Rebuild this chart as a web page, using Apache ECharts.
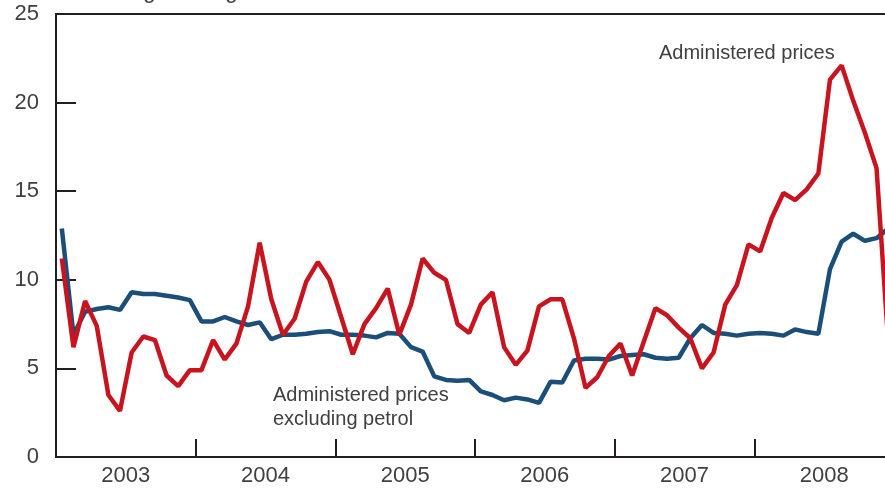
<!DOCTYPE html>
<html>
<head>
<meta charset="utf-8">
<style>
  html, body { margin: 0; padding: 0; background: #ffffff; overflow: hidden; width: 885px; height: 489px; }
  #chart { width: 900px; height: 489px; }
</style>
<script src="https://cdn.jsdelivr.net/npm/echarts@6/dist/echarts.min.js"></script>
</head>
<body>
<div id="chart"></div>
<script>
// ---- data ----
const years = ['2003', '2004', '2005', '2006', '2007', '2008'];
const monthNames = ['Jan','Feb','Mar','Apr','May','Jun','Jul','Aug','Sep','Oct','Nov','Dec'];
const yTicks = [0, 5, 10, 15, 20, 25];

// Administered prices (red), monthly Jan 2003 - Dec 2008
const administered = [
  11.2, 6.2, 8.8, 7.4, 3.5, 2.6, 5.9, 6.8, 6.6, 4.6, 4.0, 4.9,
  4.9, 6.6, 5.5, 6.4, 8.5, 12.1, 8.9, 6.9, 7.8, 9.9, 11.0, 10.0,
  7.9, 5.8, 7.5, 8.4, 9.5, 6.9, 8.6, 11.2, 10.4, 10.0, 7.5, 7.0,
  8.6, 9.3, 6.2, 5.2, 6.0, 8.5, 8.9, 8.9, 6.7, 3.9, 4.5, 5.7,
  6.4, 4.6, 6.5, 8.4, 8.0, 7.3, 6.7, 5.0, 5.9, 8.6, 9.7, 12.0,
  11.6, 13.5, 14.9, 14.5, 15.1, 16.0, 21.3, 22.1, 20.1, 18.3, 16.3, 6.5
];

// Administered prices excluding petrol (blue)
const administeredExPetrol = [
  12.9, 6.9, 8.2, 8.35, 8.45, 8.3, 9.3, 9.2, 9.2, 9.1, 9.0, 8.85,
  7.65, 7.65, 7.9, 7.65, 7.45, 7.6, 6.65, 6.9, 6.9, 6.95, 7.05, 7.1,
  6.9, 6.9, 6.85, 6.75, 7.0, 6.95, 6.2, 5.95, 4.55, 4.35, 4.3, 4.35,
  3.7, 3.5, 3.2, 3.35, 3.25, 3.05, 4.25, 4.2, 5.45, 5.55, 5.55, 5.5,
  5.7, 5.75, 5.8, 5.6, 5.55, 5.6, 6.7, 7.45, 7.0, 6.95, 6.85, 6.95,
  7.0, 6.95, 6.85, 7.2, 7.05, 6.95, 10.6, 12.15, 12.6, 12.2, 12.35, 12.9
];

const months = [];
years.forEach(y => monthNames.forEach(m => months.push(m + ' ' + y)));

// ---- chart ----
const axisColor = '#231f20';
const textColor = '#404040';
const fontFamily = '"Liberation Sans", Arial, sans-serif';

const chart = echarts.init(document.getElementById('chart'), null, { renderer: 'canvas' });
chart.setOption({
  animation: false,
  backgroundColor: '#ffffff',
  grid: {
    left: 56, right: 6, top: 14, bottom: 32,
    show: true, borderColor: axisColor, borderWidth: 2, backgroundColor: 'transparent'
  },
  xAxis: [
    {
      type: 'category', data: months, boundaryGap: true, position: 'bottom',
      axisLine: { show: true, lineStyle: { color: axisColor, width: 2 } },
      axisTick: { show: false }, axisLabel: { show: false }, splitLine: { show: false }
    },
    {
      type: 'category', data: years, boundaryGap: true, position: 'bottom',
      axisLine: { show: false },
      axisTick: { show: true, inside: true, length: 18, interval: 0, lineStyle: { color: axisColor, width: 2 } },
      axisLabel: { show: true, interval: 0, margin: 8, fontSize: 22, color: textColor, fontFamily: fontFamily },
      splitLine: { show: false }
    }
  ],
  yAxis: {
    type: 'value', min: yTicks[0], max: yTicks[yTicks.length - 1], interval: 5,
    axisLine: { show: true, lineStyle: { color: axisColor, width: 2 } },
    axisTick: { show: true, inside: true, length: 20, lineStyle: { color: axisColor, width: 2 } },
    axisLabel: { margin: 17, fontSize: 22, color: textColor, fontFamily: fontFamily },
    splitLine: { show: false }
  },
  series: [
    {
      name: 'Administered prices excluding petrol', type: 'line', xAxisIndex: 0,
      data: administeredExPetrol, symbol: 'none',
      lineStyle: { color: '#1b4f7a', width: 4.5 }, z: 2
    },
    {
      name: 'Administered prices', type: 'line', xAxisIndex: 0,
      data: administered, symbol: 'none',
      lineStyle: { color: '#c8141e', width: 4.5 }, z: 3
    }
  ],
  graphic: [
    {
      type: 'text', x: 51, y: 3,
      style: { text: 'Percentage change', font: '23px ' + fontFamily, fill: textColor, textVerticalAlign: 'bottom' }
    },
    {
      type: 'text', x: 659, y: 43,
      style: { text: 'Administered prices', font: '20px ' + fontFamily, fill: textColor, textVerticalAlign: 'top' }
    },
    {
      type: 'text', x: 273, y: 383,
      style: { text: 'Administered prices\nexcluding petrol', font: '20px ' + fontFamily, lineHeight: 24, fill: textColor, textVerticalAlign: 'top' }
    }
  ]
});
</script>
</body>
</html>
